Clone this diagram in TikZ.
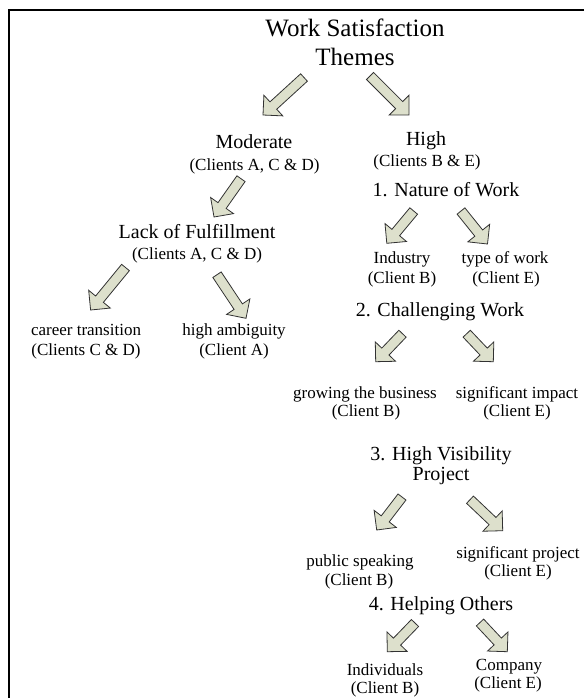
\documentclass[tikz,border=0pt]{standalone}
\usepackage{fontspec}
\setmainfont{Liberation Serif}
\usetikzlibrary{calc}
\definecolor{arrowfill}{RGB}{221,224,204}
\definecolor{arrowline}{RGB}{50,50,50}
\newcommand{\blockarrow}[2]{%
  \draw[barrow]
    ($(#1)!5pt!90:(#2)$) --
    ($($(#2)!14pt!(#1)$)!5pt!90:(#2)$) --
    ($($(#2)!14pt!(#1)$)!14pt!90:(#2)$) --
    (#2) --
    ($($(#2)!14pt!(#1)$)!14pt!-90:(#2)$) --
    ($($(#2)!14pt!(#1)$)!5pt!-90:(#2)$) --
    ($(#1)!5pt!-90:(#2)$) -- cycle;}
\tikzset{
  barrow/.style={fill=arrowfill, draw=arrowline, line width=0.8pt, line join=miter},
  txt/.style={inner sep=0pt, outer sep=0pt, anchor=base},
  ttl/.style={txt, font=\fontsize{25}{29}\selectfont},
  mainlbl/.style={txt, font=\fontsize{20}{24}\selectfont},
  sublbl/.style={txt, font=\fontsize{17}{20}\selectfont},
  frame/.style={line width=2pt}
}
\begin{document}
\begin{tikzpicture}[x=1pt,y=-1pt]
\useasboundingbox (0,0) rectangle (584,698);
% frame
\coordinate (fc) at (9,10.5);
\coordinate (fr) at (584,10.5);
\coordinate (fb) at (9,698);
\draw[frame] (fr) -- (fc) -- (fb);
% title
\node[ttl] (title1) at (355,37) {Work Satisfaction};
\node[ttl] (title2) at (355,66) {Themes};
% left branch
\node[mainlbl] (mod) at (254,148) {Moderate};
\node[sublbl] (modc) at (254.5,170) {(Clients A, C \& D)};
\node[mainlbl] (lack) at (197,238) {Lack of Fulfillment};
\node[sublbl] (lackc) at (197,259) {(Clients A, C \& D)};
\node[sublbl] (ct) at (86,335) {career transition};
\node[sublbl] (ctc) at (86,355) {(Clients C \& D)};
\node[sublbl] (ha) at (234,335) {high ambiguity};
\node[sublbl] (hac) at (234,355) {(Client A)};
% right branch
\node[mainlbl] (high) at (426,145) {High};
\node[sublbl] (highc) at (427,166) {(Clients B \& E)};
\node[mainlbl] (now) at (446,196.7) {1. Nature of Work};
\node[sublbl] (ind) at (402,263) {Industry};
\node[sublbl] (indc) at (402,283) {(Client B)};
\node[sublbl] (tow) at (505,263) {type of work};
\node[sublbl] (towc) at (506,283) {(Client E)};
\node[mainlbl] (chw) at (440,316.7) {2. Challenging Work};
\node[sublbl] (gtb) at (365,398.3) {growing the business};
\node[sublbl] (gtbc) at (366,416.7) {(Client B)};
\node[sublbl] (si) at (517,398.3) {significant impact};
\node[sublbl] (sic) at (517,416.7) {(Client E)};
\node[mainlbl] (hv) at (441,460) {3. High Visibility};
\node[mainlbl] (hvp) at (441,480) {Project};
\node[sublbl] (ps) at (360,566.7) {public speaking};
\node[sublbl] (psc) at (359,585) {(Client B)};
\node[sublbl] (sp) at (518,558.3) {significant project};
\node[sublbl] (spc) at (518,576.7) {(Client E)};
\node[mainlbl] (ho) at (441,610) {4. Helping Others};
\node[sublbl] (indiv) at (385,675) {Individuals};
\node[sublbl] (indivc) at (385,693.3) {(Client B)};
\node[sublbl] (comp) at (509,670) {Company};
\node[sublbl] (compc) at (508,688.3) {(Client E)};
% arrow ends
\coordinate (a1t) at (304,77.5);   \coordinate (a1h) at (263,115);
\coordinate (a2t) at (370,76);     \coordinate (a2h) at (409,115);
\coordinate (a3t) at (241,178.7);  \coordinate (a3h) at (214,217);
\coordinate (a4t) at (125.5,267.5);\coordinate (a4h) at (90.6,310);
\coordinate (a5t) at (217,274.7);  \coordinate (a5h) at (246,318.3);
\coordinate (a6t) at (413.7,211);  \coordinate (a6h) at (386.8,243.3);
\coordinate (a7t) at (461,211);    \coordinate (a7h) at (487.5,244);
\coordinate (a8t) at (402.5,333.7);\coordinate (a8h) at (375.7,361.7);
\coordinate (a9t) at (466.7,333.7);\coordinate (a9h) at (493.3,361.7);
\coordinate (a10t) at (402,497);   \coordinate (a10h) at (376.7,530);
\coordinate (a11t) at (470,499.7); \coordinate (a11h) at (502.7,530.7);
\coordinate (a12t) at (415,623);   \coordinate (a12h) at (387.3,651.7);
\coordinate (a13t) at (480,622.5); \coordinate (a13h) at (507.3,651.7);
\blockarrow{a1t}{a1h}
\blockarrow{a2t}{a2h}
\blockarrow{a3t}{a3h}
\blockarrow{a4t}{a4h}
\blockarrow{a5t}{a5h}
\blockarrow{a6t}{a6h}
\blockarrow{a7t}{a7h}
\blockarrow{a8t}{a8h}
\blockarrow{a9t}{a9h}
\blockarrow{a10t}{a10h}
\blockarrow{a11t}{a11h}
\blockarrow{a12t}{a12h}
\blockarrow{a13t}{a13h}
\end{tikzpicture}
\end{document}
